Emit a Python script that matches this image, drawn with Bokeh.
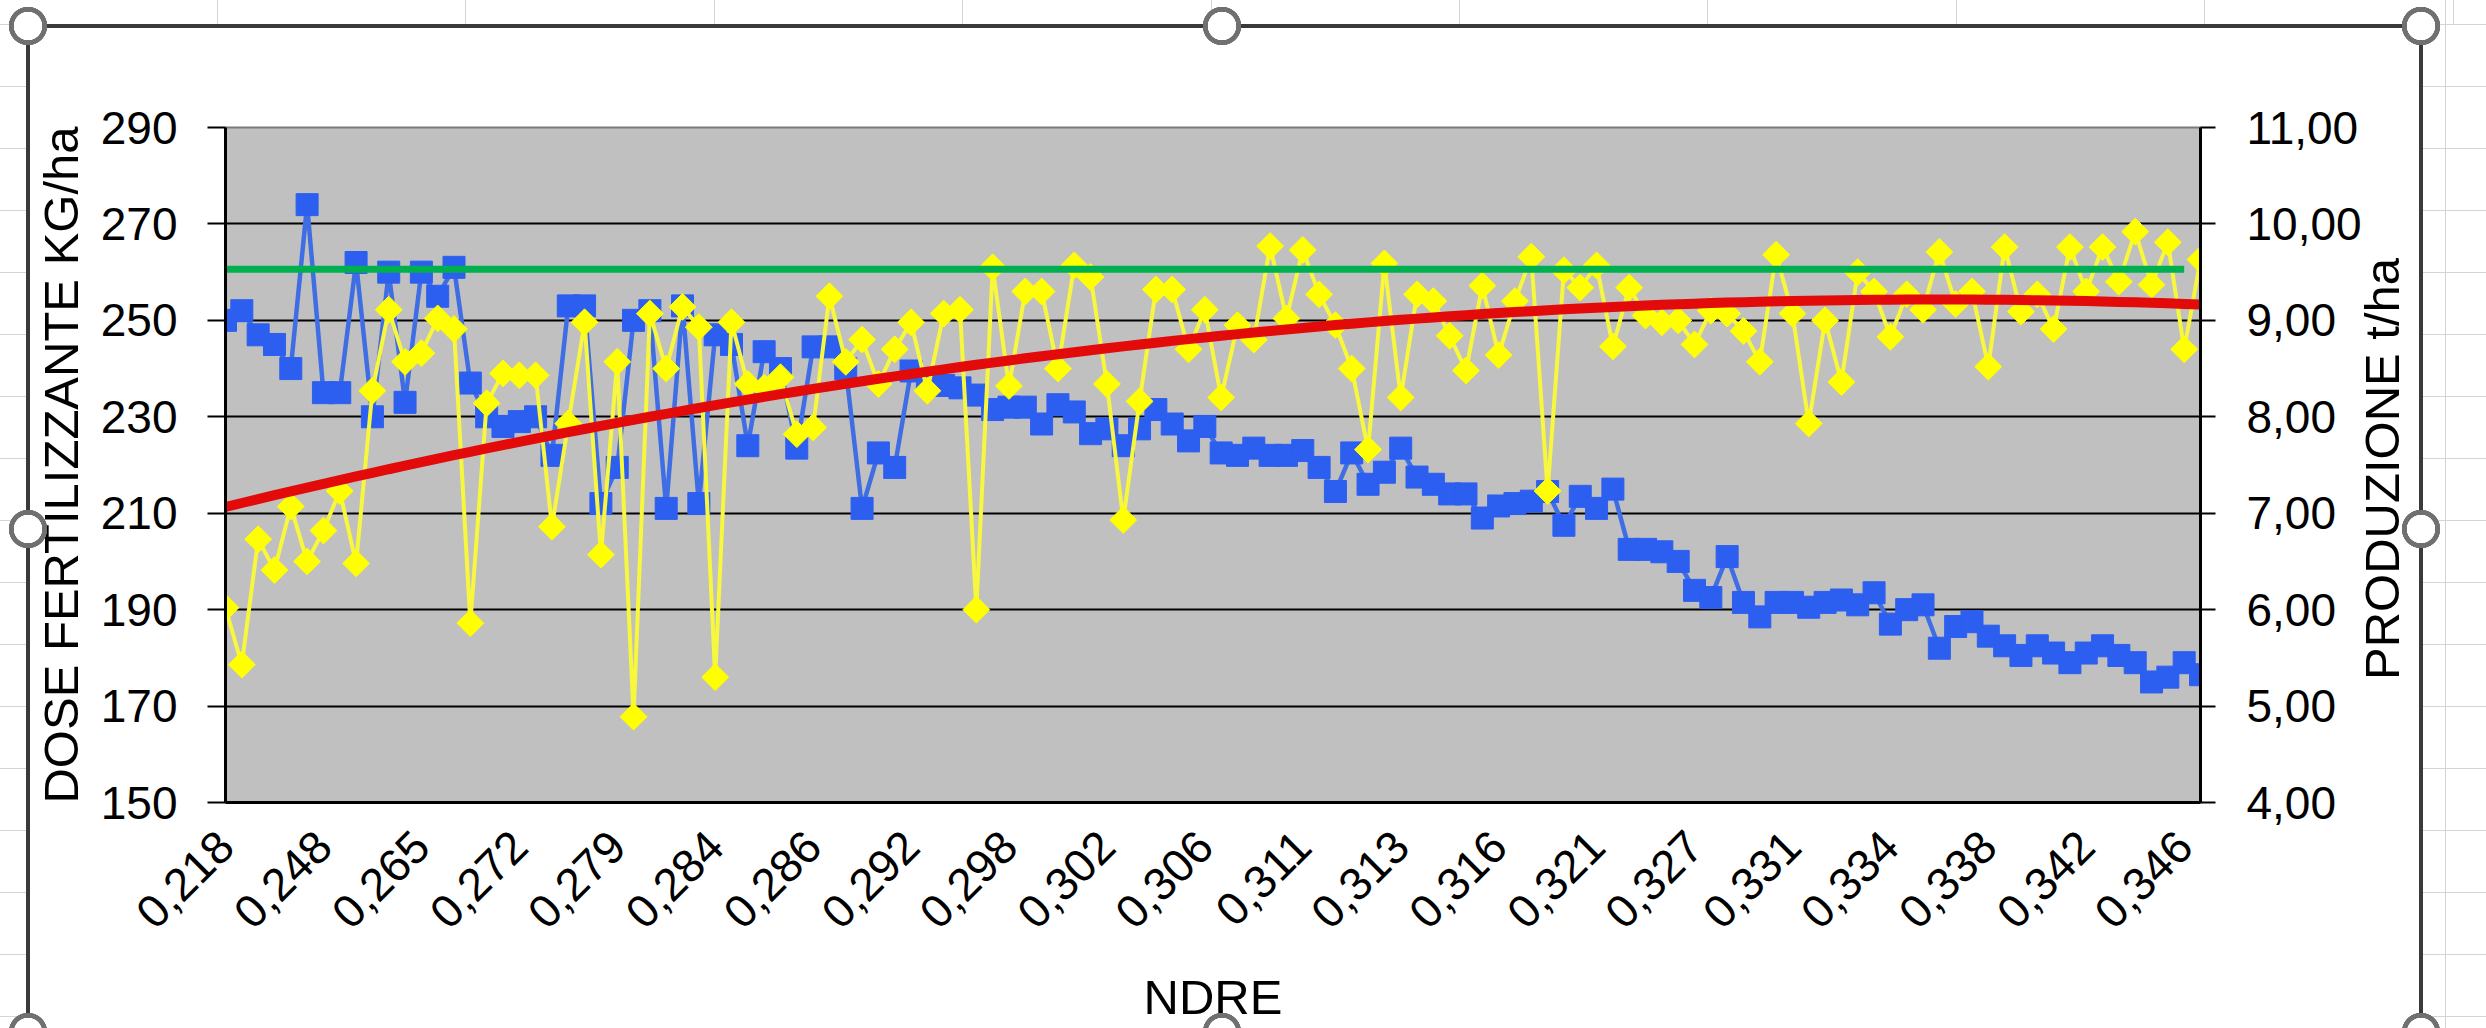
import math
import numpy as np
from bokeh.plotting import figure
from bokeh.models import (Range1d, LinearAxis, FixedTicker, CustomJSTickFormatter,
                          InlineStyleSheet)
from bokeh.embed import file_html
from bokeh.resources import INLINE

# ---- data ----
dose_kg_ha = [
    250, 252, 247, 245, 240, 274, 235, 235, 262, 230,
    260, 233, 260, 255, 261, 237, 230, 228, 229, 230,
    222, 253, 253, 212, 219.5, 250, 252, 211, 253, 212,
    247, 245, 224, 243.5, 240, 223.5, 244.5, 244.5, 240, 211,
    222.5, 219.5, 239.5, 237.5, 236.5, 236, 234.5, 231.5, 232, 232,
    228.5, 232.5, 231, 226.5, 227.5, 224, 227.5, 231.5, 228.5, 225,
    228, 222.5, 222, 223.5, 222, 222, 223, 219.5, 214.5, 222.5,
    216, 218.5, 223.5, 217.5, 216, 214, 214, 209, 211.5, 212,
    212.5, 214.5, 207.5, 213.5, 211, 215, 202.5, 202.5, 202, 200,
    194, 192.5, 201, 191.5, 188.5, 191.5, 191.5, 190.5, 191.5, 192,
    191, 193.5, 187, 190, 191, 182, 186.5, 187.5, 184.5, 182.5,
    180.5, 182.5, 181, 179, 181, 182.5, 180.5, 179, 175, 176,
    179, 176.5,
]
yield_t_ha = [
    6.02, 5.43, 6.73, 6.41, 7.07, 6.50, 6.82, 7.23, 6.48, 8.27,
    9.11, 8.57, 8.66, 9.02, 8.91, 5.86, 8.14, 8.45, 8.43, 8.43,
    6.86, 7.93, 8.98, 6.57, 8.57, 4.89, 9.07, 8.50, 9.14, 8.93,
    5.30, 8.98, 8.34, 8.30, 8.41, 7.82, 7.89, 9.25, 8.57, 8.80,
    8.34, 8.70, 8.98, 8.27, 9.07, 9.11, 6.00, 9.55, 8.32, 9.30,
    9.30, 8.50, 9.57, 9.45, 8.34, 6.93, 8.16, 9.32, 9.32, 8.70,
    9.11, 8.20, 8.95, 8.80, 9.77, 9.02, 9.73, 9.27, 8.95, 8.50,
    7.66, 9.59, 8.20, 9.27, 9.20, 8.84, 8.48, 9.36, 8.64, 9.20,
    9.66, 7.23, 9.52, 9.34, 9.57, 8.73, 9.34, 9.05, 8.98, 9.00,
    8.75, 9.10, 9.07, 8.89, 8.57, 9.68, 9.07, 7.93, 9.00, 8.36,
    9.50, 9.30, 8.83, 9.27, 9.11, 9.71, 9.17, 9.30, 8.52, 9.76,
    9.09, 9.27, 8.91, 9.76, 9.30, 9.76, 9.40, 9.92, 9.37, 9.81,
    8.70, 9.63,
]
ndre_tick_labels = [
    "0,218", "0,248", "0,265", "0,272", "0,279", "0,284", "0,286",
    "0,292", "0,298", "0,302", "0,306", "0,311", "0,313", "0,316",
    "0,321", "0,327", "0,331", "0,334", "0,338", "0,342", "0,346",
]
label_step = 6
target_yield_t_ha = 9.53
dose_ticks = [150, 170, 190, 210, 230, 250, 270, 290]
yield_ticks = [4, 5, 6, 7, 8, 9, 10, 11]

# ---- styles ----
FONT = "Liberation Sans"
BLUE_M = "#2C5FF0"
BLUE_L = "#3F6EE4"
YEL_M = "#FFFF00"
YEL_L = "#F7F73E"
RED = "#E30A0A"
GREEN = "#00B050"

n = len(dose_kg_ha)
idx = list(range(n))
tick_idx = idx[::label_step]

W, H = 2486, 1028
FL, FR, FT, FB = 225, 2200, 127, 802

p = figure(width=W, height=H, output_backend="svg", toolbar_location=None,
           x_range=Range1d(idx[0], idx[-1]), y_range=Range1d(dose_ticks[0], dose_ticks[-1]),
           min_border_left=FL, min_border_right=W - FR,
           min_border_top=FT, min_border_bottom=H - FB)
p.extra_y_ranges = {"y2": Range1d(yield_ticks[0], yield_ticks[-1])}

p.background_fill_color = "#C0C0C0"
p.border_fill_alpha = 0
p.outline_line_color = "#7A7A7A"
p.outline_line_width = 2
p.xgrid.visible = False
p.ygrid.ticker = FixedTicker(ticks=dose_ticks)
p.ygrid.grid_line_color = "black"
p.ygrid.grid_line_width = 2


def style_axis(ax, tick_out, standoff, title_standoff):
    ax.axis_line_color = "black"
    ax.axis_line_width = 3
    ax.major_tick_line_color = "black"
    ax.major_tick_line_width = 2
    ax.major_tick_out = tick_out
    ax.major_tick_in = 0
    ax.minor_tick_out = 0
    ax.minor_tick_in = 0
    ax.major_label_text_font = FONT
    ax.major_label_text_font_size = "46px"
    ax.major_label_text_color = "black"
    ax.major_label_standoff = standoff
    ax.axis_label_text_font = FONT
    ax.axis_label_text_font_size = "49px"
    ax.axis_label_text_font_style = "normal"
    ax.axis_label_text_color = "black"
    ax.axis_label_standoff = title_standoff


ya = p.yaxis[0]
ya.ticker = FixedTicker(ticks=dose_ticks)
ya.axis_label = "DOSE FERTILIZZANTE KG/ha"
style_axis(ya, 18, 30, 10)

y2 = LinearAxis(y_range_name="y2", ticker=FixedTicker(ticks=yield_ticks),
                formatter=CustomJSTickFormatter(code="return tick.toFixed(2).replace('.', ',');"))
style_axis(y2, 15, 31, 0)
p.add_layout(y2, "right")

# secondary-axis title, reading bottom-to-top as in the reference; it is anchored
# at the bottom of the axis and pushed up to the middle with leading no-break spaces
y2_title = LinearAxis(y_range_name="y2", ticker=FixedTicker(ticks=[]),
                      axis_label="\u00a0" * 9 + "PRODUZIONE t/ha")
style_axis(y2_title, 0, 0, 17)
y2_title.axis_line_alpha = 0
y2_title.axis_label_orientation = math.pi / 2
y2_title.axis_label_align = "start"
p.add_layout(y2_title, "right")

xa = p.xaxis[0]
xa.ticker = FixedTicker(ticks=tick_idx)
xa.major_label_overrides = {i: lab for i, lab in zip(tick_idx, ndre_tick_labels)}
xa.major_label_orientation = math.pi / 4
xa.axis_label = "NDRE"
style_axis(xa, 0, 36, 24)

# ---- series ----
p.line(idx, dose_kg_ha, line_color=BLUE_L, line_width=4.5)
p.scatter(idx, dose_kg_ha, marker="square", size=22, fill_color=BLUE_M, line_color=BLUE_M)

p.line(idx, yield_t_ha, y_range_name="y2", line_color=YEL_L, line_width=4)
p.scatter(idx, yield_t_ha, y_range_name="y2", marker="square", angle=math.pi / 4, size=19,
          fill_color=YEL_M, line_color=YEL_M)

coef = np.polyfit(idx, yield_t_ha, 2)
trend = np.polyval(coef, idx)
p.line(idx, trend, y_range_name="y2", line_color=RED, line_width=10)

green_x = [idx[0], idx[-2]]
p.line(green_x, [target_yield_t_ha] * len(green_x), y_range_name="y2",
       line_color=GREEN, line_width=7)

# ---- spreadsheet background, chart selection frame and handles (CSS only) ----
handles = [(28, 26), (1222, 26), (2421, 26), (28, 529), (2421, 529),
           (28, 1032), (1222, 1032), (2421, 1032)]
rings = ",\n    ".join(
    f"radial-gradient(circle 19px at {x}px {y}px, #ffffff 0px 14px, #707070 14.5px 19px, transparent 19.5px)"
    for x, y in handles)
css = f"""
:host {{
  position: relative;
  background-color: #ffffff;
  background-image:
    repeating-linear-gradient(to bottom, transparent 0px 24px, #d4d4d4 24px 25px, transparent 25px 62px),
    repeating-linear-gradient(to bottom, transparent 0px 24px, #d4d4d4 24px 25px, transparent 25px 62px),
    linear-gradient(to right, transparent 0px 24px, #d4d4d4 24px 25px, transparent 25px),
    repeating-linear-gradient(to right, transparent 0px 217px, #d4d4d4 217px 218px, transparent 218px 248.4px);
  background-size: 26px 100%, 65px 100%, 65px 100%, 100% 24px;
  background-position: 0 0, 100% 0, 100% 0, 0 0;
  background-repeat: no-repeat;
}}
:host::before {{
  content: "";
  position: absolute;
  z-index: 10;
  pointer-events: none;
  left: 26px; top: 24px; width: 2397px; height: 1004px;
  box-sizing: border-box;
  border: 4px solid #3a3a3a;
  border-bottom: none;
}}
:host::after {{
  content: "";
  position: absolute;
  z-index: 11;
  pointer-events: none;
  left: 0; top: 0; width: 100%; height: 100%;
  background-image:
    {rings};
  background-repeat: no-repeat;
}}
"""
p.stylesheets = [InlineStyleSheet(css=css)]

open("out.html", "w").write(file_html(p, INLINE))
